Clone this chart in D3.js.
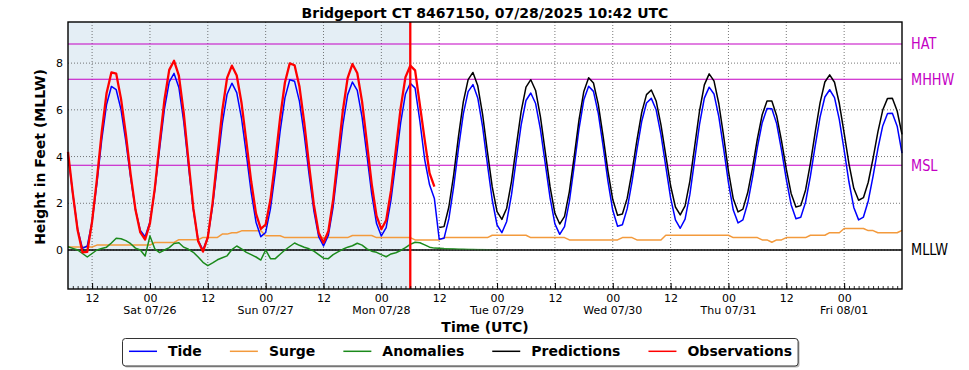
<!DOCTYPE html>
<html><head><meta charset="utf-8">
<script src="https://cdn.jsdelivr.net/npm/d3@7"></script>
<style>
body{margin:0;background:#fff}
svg{display:block;font-family:'DejaVu Sans',sans-serif}
</style>
</head><body>
<svg id="chart" width="969" height="370"></svg>
<script>
// ---------------- data ----------------
const titleText = "Bridgeport CT 8467150, 07/28/2025 10:42 UTC";
const startTime = "2025-07-25T07:00:00Z";   // hour 0 of every series
const endTime   = "2025-08-01T12:00:00Z";
const nowcastTime = "2025-07-28T06:00:00Z";

// hourly Tide (ft MLLW), hours 0..173
const tide = [4.1,2.39,0.89,0.07,0.17,1.21,2.86,4.72,6.23,7.0,
  6.86,6.01,4.65,3.09,1.72,0.84,0.57,1.2,2.56,4.33,
  6.03,7.2,7.56,6.96,5.5,3.59,1.72,0.41,0.0,0.55,
  1.89,3.66,5.4,6.67,7.14,6.74,5.63,4.09,2.47,1.19,
  0.57,0.75,1.77,3.33,5.08,6.51,7.29,7.22,6.37,4.94,
  3.25,1.68,0.57,0.17,0.62,1.85,3.6,5.34,6.64,7.19,
  6.83,5.69,4.07,2.4,1.13,0.6,0.96,2.14,3.77,5.44,
  6.68,7.14,6.93,5.5,3.86,2.79,2.2,0.46,0.5,1.33,
  2.7,4.35,5.83,6.78,7.08,6.51,5.28,3.67,2.14,1.07,
  0.74,1.22,2.37,3.89,5.36,6.4,6.72,6.27,5.16,3.7,
  2.23,1.12,0.67,1.0,2.08,3.6,5.19,6.43,7.01,6.79,
  5.85,4.45,2.95,1.7,1.02,1.08,1.77,2.93,4.27,5.5,
  6.29,6.49,6.0,4.94,3.58,2.23,1.29,0.93,1.32,2.38,
  3.88,5.38,6.5,6.97,6.68,5.71,4.34,2.88,1.71,1.16,
  1.29,2.01,3.12,4.39,5.45,6.06,6.05,5.41,4.29,3.02,
  1.94,1.34,1.4,2.05,3.16,4.47,5.69,6.55,6.86,6.52,
  5.58,4.27,2.91,1.82,1.29,1.41,2.1,3.16,4.34,5.31,
  5.84,5.85,5.3,4.15];

// hourly Observations, hours 0..76
const observations = [4.2,2.42,0.84,-0.1,-0.08,1.22,3.03,5.06,6.71,7.6,
  7.55,6.47,4.96,3.23,1.72,0.75,0.45,1.14,2.63,4.57,
  6.42,7.71,8.1,7.46,5.88,3.81,1.79,0.37,-0.07,0.54,
  2.03,4.01,5.96,7.37,7.89,7.47,6.29,4.64,2.93,1.56,
  0.9,1.09,2.16,3.82,5.66,7.17,7.99,7.91,7.01,5.46,
  3.64,1.94,0.74,0.31,0.8,2.15,4.04,5.94,7.36,7.96,
  7.58,6.35,4.61,2.82,1.46,0.89,1.27,2.54,4.29,6.07,
  7.4,7.89,7.69,6.2,4.7,3.29,2.71];

// hourly Predictions, hours 77..173
const predictionsStartHour = 77;
const predictions = [0.96,1.0,1.84,3.21,4.86,6.34,7.29,7.6,7.03,5.81,
  4.21,2.7,1.64,1.31,1.79,2.94,4.46,5.93,6.97,7.29,
  6.83,5.7,4.2,2.7,1.57,1.11,1.44,2.5,4.0,5.57,
  6.79,7.37,7.15,6.23,4.86,3.38,2.16,1.49,1.54,2.22,
  3.36,4.68,5.88,6.65,6.85,6.38,5.36,4.05,2.75,1.84,
  1.5,1.89,2.95,4.45,5.95,7.07,7.54,7.24,6.26,4.87,
  3.38,2.19,1.63,1.75,2.46,3.53,4.76,5.79,6.38,6.38,
  5.75,4.68,3.46,2.42,1.84,1.9,2.57,3.71,5.05,6.3,
  7.19,7.5,7.18,6.27,5.0,3.69,2.64,2.13,2.24,2.9,
  3.92,5.06,5.99,6.49,6.5,5.95,4.95];

// hourly Surge, hours 0..173
const surge = [0.13,0.13,0.13,0.13,0.13,0.13,0.21,0.21,0.21,0.21,
  0.21,0.21,0.21,0.21,0.21,0.21,0.21,0.21,0.32,0.32,
  0.32,0.32,0.32,0.44,0.44,0.44,0.44,0.44,0.54,0.54,
  0.54,0.54,0.68,0.68,0.74,0.74,0.82,0.82,0.82,0.82,
  0.82,0.61,0.61,0.61,0.61,0.53,0.53,0.53,0.53,0.53,
  0.53,0.53,0.53,0.53,0.53,0.53,0.53,0.53,0.53,0.62,
  0.62,0.62,0.62,0.62,0.53,0.53,0.53,0.53,0.53,0.53,
  0.53,0.53,0.43,0.43,0.43,0.43,0.43,0.43,0.53,0.53,
  0.53,0.53,0.53,0.53,0.53,0.53,0.53,0.53,0.63,0.63,
  0.63,0.63,0.63,0.63,0.63,0.63,0.53,0.53,0.53,0.53,
  0.53,0.53,0.53,0.53,0.43,0.43,0.43,0.43,0.43,0.43,
  0.43,0.43,0.43,0.43,0.43,0.53,0.53,0.53,0.43,0.43,
  0.43,0.43,0.43,0.43,0.63,0.63,0.63,0.63,0.63,0.63,
  0.63,0.63,0.63,0.63,0.63,0.63,0.63,0.63,0.53,0.53,
  0.53,0.53,0.53,0.53,0.43,0.43,0.33,0.43,0.43,0.53,
  0.53,0.53,0.53,0.53,0.63,0.63,0.63,0.63,0.74,0.74,
  0.74,0.92,0.92,0.92,0.92,0.92,0.83,0.83,0.74,0.74,
  0.74,0.74,0.74,0.84];

// hourly Anomalies, hours 0..90 (fading out after the nowcast)
const anomalies = [0.14,0.07,0.0,-0.15,-0.3,-0.15,0.0,0.06,0.12,0.3,
  0.5,0.48,0.4,0.27,0.08,0.0,-0.26,0.6,0.05,-0.11,
  0.0,0.1,0.28,0.31,0.12,0.03,-0.1,-0.3,-0.53,-0.67,
  -0.55,-0.42,-0.33,-0.25,0.02,0.17,0.05,-0.1,-0.2,-0.3,
  -0.43,0.0,-0.37,-0.37,-0.18,0.0,0.15,0.3,0.2,0.12,
  0.05,-0.05,-0.2,-0.35,-0.37,-0.2,-0.08,0.03,0.12,0.18,
  0.29,0.21,0.05,-0.05,-0.1,-0.2,-0.29,-0.17,-0.12,-0.02,
  0.1,0.24,0.33,0.31,0.22,0.12,0.08,0.07,0.06,0.055,
  0.05,0.045,0.04,0.035,0.03,0.025,0.02,0.015,0.01,0.005,0.0];

const datumNames  = ["HAT","MHHW","MSL","MLLW"];
const datumValues = [8.82, 7.31, 3.63, 0];

const yTicks = [0,2,4,6,8];
const xMajorTicks = ["2025-07-25T12:00:00Z","2025-07-26T00:00:00Z","2025-07-26T12:00:00Z",
  "2025-07-27T00:00:00Z","2025-07-27T12:00:00Z","2025-07-28T00:00:00Z","2025-07-28T12:00:00Z",
  "2025-07-29T00:00:00Z","2025-07-29T12:00:00Z","2025-07-30T00:00:00Z","2025-07-30T12:00:00Z",
  "2025-07-31T00:00:00Z","2025-07-31T12:00:00Z","2025-08-01T00:00:00Z"];
const xHourLabels = ["12","00","12","00","12","00","12","00","12","00","12","00","12","00"];
const xDayLabels  = ["","Sat 07/26","","Sun 07/27","","Mon 07/28","","Tue 07/29","","Wed 07/30","","Thu 07/31","","Fri 08/01"];

const seriesNames  = ["Tide","Surge","Anomalies","Predictions","Observations"];

// ---------------- drawing ----------------
const colors = {Tide:"#0000ff", Surge:"#f39a3c", Anomalies:"#1b8a1b", Predictions:"#000000", Observations:"#ff0000"};
const widths = {Tide:1.5, Surge:1.5, Anomalies:1.5, Predictions:1.5, Observations:2.3};
const magenta = "#c400c4";

const svg = d3.select("#chart");
const L = 68, R = 902, T = 22, B = 289;
const t0 = new Date(startTime);
const hourTime = i => d3.utcHour.offset(t0, i);

const x = d3.scaleUtc().domain([t0, new Date(endTime)]).range([L, R]);
const y = d3.scaleLinear().domain([-1.67, 9.76]).range([B, T]);

// shaded observed period
const xNow = x(new Date(nowcastTime));
svg.append("rect").attr("x", L).attr("y", T).attr("width", xNow - L).attr("height", B - T).attr("fill", "#e4eef5");

// grid
const grid = svg.append("g").attr("stroke", "#555").attr("stroke-width", 0.8).attr("stroke-dasharray", "1,2");
grid.selectAll("line.v").data(xMajorTicks).join("line")
  .attr("x1", d => x(new Date(d))).attr("x2", d => x(new Date(d))).attr("y1", T).attr("y2", B);
grid.selectAll("line.h").data(yTicks).join("line")
  .attr("x1", L).attr("x2", R).attr("y1", d => y(d)).attr("y2", d => y(d));

// datum lines
datumNames.forEach((n, i) => {
  svg.append("line").attr("x1", L).attr("x2", R).attr("y1", y(datumValues[i])).attr("y2", y(datumValues[i]))
    .attr("stroke", n === "MLLW" ? "#000" : magenta).attr("stroke-width", n === "MLLW" ? 1.3 : 1.1);
});

// gradient for fading anomalies
const defs = svg.append("defs");
const grad = defs.append("linearGradient").attr("id", "anomFade").attr("gradientUnits", "userSpaceOnUse")
  .attr("x1", L).attr("x2", R).attr("y1", 0).attr("y2", 0);
const fadeStart = (x(hourTime(77)) - L) / (R - L), fadeEnd = (x(hourTime(90)) - L) / (R - L);
grad.append("stop").attr("offset", fadeStart).attr("stop-color", colors.Anomalies).attr("stop-opacity", 1);
grad.append("stop").attr("offset", fadeEnd).attr("stop-color", colors.Anomalies).attr("stop-opacity", 0.05);

const line = d3.line().x(d => x(d.t)).y(d => y(d.v));
const toPts = (arr, off) => arr.map((v, i) => ({t: hourTime(i + off), v}));

function drawSeries(name, pts, stroke) {
  svg.append("path").datum(pts).attr("d", line).attr("fill", "none")
    .attr("stroke", stroke || colors[name]).attr("stroke-width", widths[name]).attr("stroke-linejoin", "round");
}
drawSeries("Surge", toPts(surge, 0));
drawSeries("Anomalies", toPts(anomalies, 0), "url(#anomFade)");
drawSeries("Tide", toPts(tide, 0));
drawSeries("Predictions", toPts(predictions, predictionsStartHour));
drawSeries("Observations", toPts(observations, 0));

// nowcast vertical line
svg.append("line").attr("x1", xNow).attr("x2", xNow).attr("y1", T).attr("y2", B)
  .attr("stroke", "#ff0000").attr("stroke-width", 2.3);

// axes
const hourlyTicks = d3.utcHour.range(t0, new Date(endTime)).slice(1);
const xMinor = svg.append("g").attr("transform", `translate(0,${B})`)
  .call(d3.axisBottom(x).tickValues(hourlyTicks).tickSize(-3).tickFormat(""));
xMinor.select(".domain").remove();
xMinor.selectAll("line").attr("stroke", "#000").attr("stroke-width", 0.8);

const xMajor = svg.append("g").attr("transform", `translate(0,${B})`)
  .call(d3.axisBottom(x).tickValues(xMajorTicks.map(d => new Date(d))).tickSize(-6).tickPadding(5.5)
    .tickFormat((d, i) => xHourLabels[i]));
xMajor.select(".domain").remove();
xMajor.selectAll("line").attr("stroke", "#000").attr("stroke-width", 1);
xMajor.selectAll("text").attr("font-size", 11).attr("font-family", "DejaVu Sans").attr("fill", "#000");

svg.append("g").selectAll("text").data(xMajorTicks).join("text")
  .attr("x", d => x(new Date(d))).attr("y", 313.5).attr("text-anchor", "middle")
  .attr("font-size", 11).text((d, i) => xDayLabels[i]);

const yAxis = svg.append("g").attr("transform", `translate(${L},0)`)
  .call(d3.axisLeft(y).tickValues(yTicks).tickSize(0).tickPadding(5).tickFormat(d3.format("d")));
yAxis.select(".domain").remove();
yAxis.selectAll("text").attr("font-size", 11).attr("font-family", "DejaVu Sans").attr("fill", "#000");

// frame
svg.append("rect").attr("x", L).attr("y", T).attr("width", R - L).attr("height", B - T)
  .attr("fill", "none").attr("stroke", "#000").attr("stroke-width", 1.4);

// datum labels on the right
datumNames.forEach((n, i) => {
  const t = svg.append("text").attr("x", 911).attr("y", y(datumValues[i])).attr("dy", "0.36em")
    .attr("font-size", 15).attr("fill", n === "MLLW" ? "#000" : magenta).text(n);
  const w = t.node().getComputedTextLength();
  t.attr("textLength", w * 0.86).attr("lengthAdjust", "spacingAndGlyphs");
});

// titles
svg.append("text").attr("x", (L + R) / 2).attr("y", 18).attr("text-anchor", "middle")
  .attr("font-size", 14).attr("font-weight", "bold").text(titleText);
svg.append("text").attr("transform", `translate(45,${(T + B) / 2 + 1.5}) rotate(-90)`).attr("text-anchor", "middle")
  .attr("font-size", 14).attr("font-weight", "bold").text("Height in Feet (MLLW)");
svg.append("text").attr("x", (L + R) / 2).attr("y", 332).attr("text-anchor", "middle")
  .attr("font-size", 14).attr("font-weight", "bold").text("Time (UTC)");

// legend
const lg = svg.append("g");
const shadow = lg.append("rect"), box = lg.append("rect");
let cx = 129;
const ly = 351.3;
seriesNames.forEach(n => {
  lg.append("line").attr("x1", cx).attr("x2", cx + 28).attr("y1", ly).attr("y2", ly)
    .attr("stroke", colors[n]).attr("stroke-width", 1.5);
  const t = lg.append("text").attr("x", cx + 39).attr("y", ly).attr("dy", "0.36em")
    .attr("font-size", 14).attr("font-weight", "bold").text(n);
  cx += 39 + t.node().getComputedTextLength() + 28;
});
const bx = 122.5, bw = (cx - 28 + 6) - bx;
shadow.attr("x", bx + 1.5).attr("y", 340).attr("width", bw).attr("height", 27.5).attr("rx", 3).attr("fill", "#bbb");
box.attr("x", bx).attr("y", 338.5).attr("width", bw).attr("height", 27.5).attr("rx", 3)
  .attr("fill", "#fff").attr("stroke", "#333").attr("stroke-width", 1);
</script>
</body></html>
